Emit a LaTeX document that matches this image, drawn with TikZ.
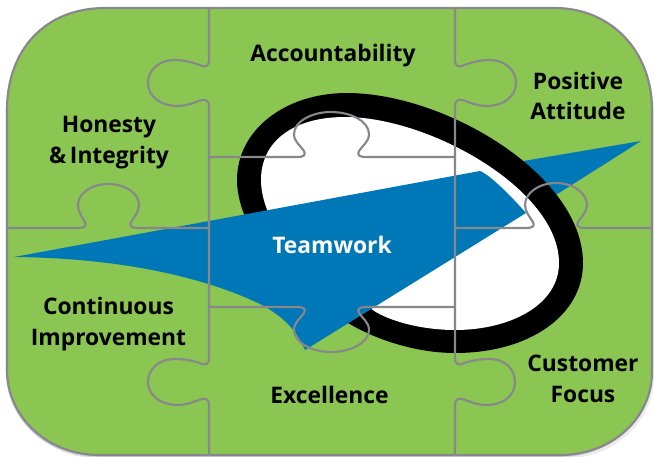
\documentclass[tikz,border=0pt]{standalone}
\usepackage{fontspec}
\setmainfont{Open Sans}
\definecolor{puzgreen}{HTML}{8BC652}
\definecolor{puzblue}{HTML}{0077B6}
\definecolor{puzline}{HTML}{87878C}
\def\boardpath{(7,110) .. controls (7,50) and (45,8) .. (105,8) -- (555,8)
  .. controls (610,8) and (652,50) .. (652,110) -- (652,372)
  .. controls (652,418) and (612,455) .. (560,455) -- (100,455)
  .. controls (45,455) and (7,415) .. (7,370) -- cycle}
\tikzset{
  seam/.style={draw=puzline,line width=1.6pt,line join=round},
  lab/.style={font=\bfseries\fontsize{17.1}{23}\selectfont,align=center,text=black,inner sep=0pt},
}
\begin{document}
\begin{tikzpicture}[x=0.75pt,y=-0.75pt]
\useasboundingbox (0,0) rectangle (654,457);
% board with soft shadow
\fill[black!8,xshift=1.5pt,yshift=-3pt] \boardpath;
\fill[black!18,xshift=-0.8pt,yshift=-1.6pt] \boardpath;
\fill[black!35,yshift=-0.8pt] \boardpath;
\path[fill=puzgreen,draw=puzline,line width=1.6pt] \boardpath;
% blue tip behind the ring
\fill[puzblue] (641,141) -- (500,165) -- (540,205) -- cycle;
% ring
\fill[black] (237,180) .. controls (237,130) and (285,93) .. (347,93)
  .. controls (445,93) and (583,175) .. (583,263)
  .. controls (583,315) and (530,353) .. (455,353)
  .. controls (420,353) and (380,342) .. (348,323)
  .. controls (300,300) and (237,235) .. (237,180) -- cycle;
\fill[white] (261,180) .. controls (261,140) and (295,117) .. (345,117)
  .. controls (430,117) and (559,190) .. (559,263)
  .. controls (559,305) and (510,330) .. (455,330)
  .. controls (420,330) and (385,320) .. (370,308)
  .. controls (320,290) and (261,230) .. (261,180) -- cycle;
% blue
\fill[puzblue] (14,257) -- (480,171) .. controls (490,175) and (510,195) .. (526,213) -- (305,350)
  .. controls (296,330) and (285,318) .. (262,305) .. controls (205,277) and (120,258) .. (14,257) -- cycle;
% seams
\draw[seam] (209,8) -- (209,60) .. controls (209,66) and (206,67) .. (202,66)
  .. controls (195,63) and (185,60) .. (175,60) .. controls (158,60) and (148,71) .. (148,83)
  .. controls (148,96) and (160,106) .. (178,106) .. controls (187,106) and (195,102) .. (202,100)
  .. controls (206,99) and (209,101) .. (209,106) -- (209,358) .. controls (209,364) and (206,365) .. (202,364)
  .. controls (195,361) and (185,359) .. (175,359) .. controls (158,359) and (148,370) .. (148,382)
  .. controls (148,395) and (160,405) .. (178,405) .. controls (187,405) and (195,401) .. (202,399)
  .. controls (206,398) and (209,400) .. (209,405) -- (209,455);
\draw[seam] (455,8) -- (455,60) .. controls (455,66) and (458,67) .. (462,66)
  .. controls (469,63) and (479,60) .. (489,60) .. controls (506,60) and (516,71) .. (516,83)
  .. controls (516,96) and (504,106) .. (486,106) .. controls (477,106) and (469,102) .. (462,100)
  .. controls (458,99) and (455,101) .. (455,106) -- (455,358) .. controls (455,364) and (458,365) .. (462,364)
  .. controls (469,361) and (479,359) .. (489,359) .. controls (506,359) and (515,370) .. (515,382)
  .. controls (515,395) and (504,405) .. (486,405) .. controls (477,405) and (469,401) .. (462,399)
  .. controls (458,398) and (455,400) .. (455,405) -- (455,455);
\draw[seam] (7,228) -- (78,228) .. controls (85,228) and (87,226) .. (85,222)
  .. controls (82,217) and (78,212) .. (78,205) .. controls (78,193) and (92,184) .. (108,184)
  .. controls (125,184) and (139,193) .. (139,205) .. controls (139,212) and (134,217) .. (131,222)
  .. controls (129,226) and (131,228) .. (138,228) -- (209,228);
\draw[seam] (209,157) -- (297,157) .. controls (304,157) and (306,155) .. (304,151)
  .. controls (301,146) and (294,142) .. (294,134) .. controls (294,122) and (311,112) .. (331,112)
  .. controls (352,112) and (369,122) .. (369,134) .. controls (369,142) and (362,146) .. (359,151)
  .. controls (357,155) and (359,157) .. (366,157) -- (455,157);
\draw[seam] (209,307) -- (297,307) .. controls (304,307) and (306,309) .. (304,313)
  .. controls (301,318) and (294,322) .. (294,330) .. controls (294,342) and (311,352) .. (331,352)
  .. controls (352,352) and (369,342) .. (369,330) .. controls (369,322) and (362,318) .. (359,313)
  .. controls (357,309) and (359,307) .. (366,307) -- (455,307);
\draw[seam] (455,228) -- (526,228) .. controls (533,228) and (535,226) .. (533,222)
  .. controls (530,217) and (525,212) .. (525,205) .. controls (525,193) and (539,183) .. (556,183)
  .. controls (573,183) and (587,193) .. (587,205) .. controls (587,212) and (581,217) .. (578,222)
  .. controls (576,226) and (578,228) .. (585,228) -- (652,228);
% labels
\node[lab] (acc) at (333,56) {Accountability};
\node[lab] (pos) at (578,96) {Positive\\Attitude};
\node[lab] (hon) at (109,142.5) {Honesty\\\&\,Integrity};
\node[lab,text=white] (team) at (332,245) {Teamwork};
\node[lab] (con) at (108.5,324) {Continuous\\Improvement};
\node[lab] (exc) at (329.5,395) {Excellence};
\node[lab] (cus) at (583,379) {Customer\\Focus};
\end{tikzpicture}
\end{document}
